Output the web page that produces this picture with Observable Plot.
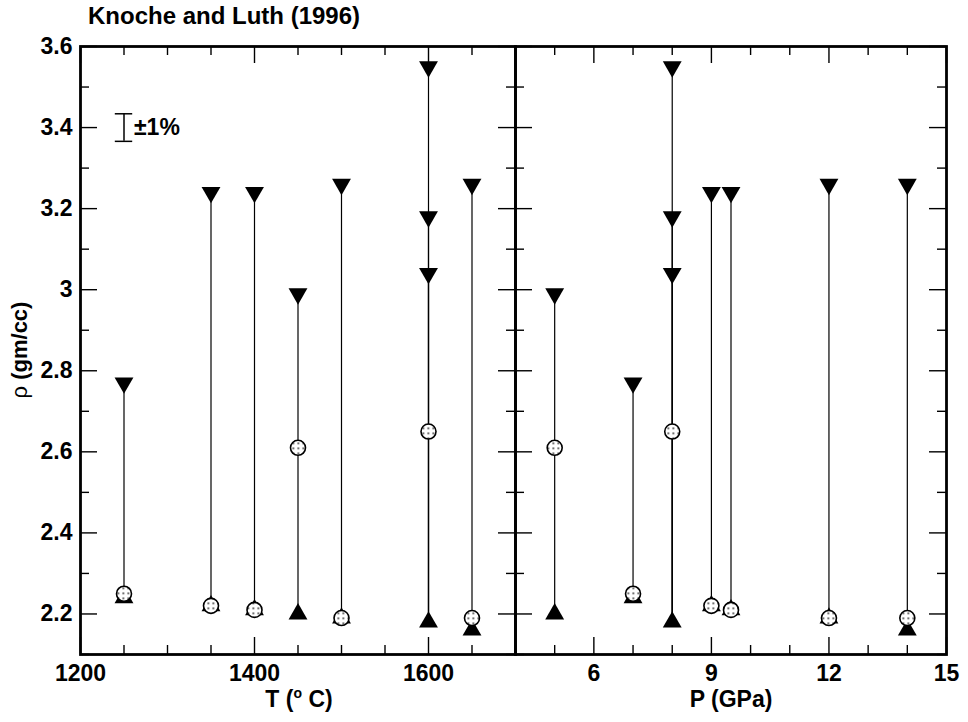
<!DOCTYPE html>
<html><head><meta charset="utf-8">
<script src="https://cdn.jsdelivr.net/npm/d3@7"></script>
<script src="https://cdn.jsdelivr.net/npm/@observablehq/plot@0.6"></script>
<style>
body{margin:0;background:#fff;}
#wrap{position:relative;width:968px;height:722px;font-family:"Liberation Sans",Arial,Helvetica,sans-serif;color:#000;overflow:hidden;}
#wrap svg{position:absolute;top:0;overflow:visible;}
.lbl{position:absolute;font-weight:bold;white-space:nowrap;line-height:1;}
.sup{position:relative;top:-9px;font-size:14px;}
</style></head><body>
<div id="wrap">
<div class="lbl" style="left:88px;top:4px;font-size:24px;">Knoche and Luth (1996)</div>
<div class="lbl" style="left:199px;top:688px;width:200px;text-align:center;font-size:23px;">T (<span class="sup">o</span> C)</div>
<div class="lbl" style="left:631px;top:688px;width:200px;text-align:center;font-size:23px;">P (GPa)</div>
<div class="lbl" style="left:-80px;top:338px;width:200px;height:24px;line-height:24px;text-align:center;font-size:22px;transform:rotate(-90deg);"><span style="font-weight:normal">ρ</span> (gm/cc)</div>
</div>
<script>
// ---- data ----
const temperature = [1250, 1350, 1400, 1450, 1500, 1600, 1650];   // T (°C)
const pressure    = [7, 9, 9.5, 5, 12, 8, 14];                    // P (GPa)
const rhoLow      = [2.24, 2.22, 2.21, 2.20, 2.19, 2.18, 2.16];   // up triangles
const rhoMid      = [2.25, 2.22, 2.21, 2.61, 2.19, 2.65, 2.19];   // stippled circles
const rhoHigh     = [[2.77], [3.24], [3.24], [2.99], [3.26], [3.55, 3.18, 3.04], [3.26]]; // down triangles

// ---- ticks ----
const yMajor = [2.2, 2.4, 2.6, 2.8, 3.0, 3.2, 3.4, 3.6];
const yMinor = [2.1, 2.3, 2.5, 2.7, 2.9, 3.1, 3.3, 3.5];
const tMajor = [1200, 1400, 1600];
const tMinor = [1250, 1300, 1350, 1450, 1500, 1550, 1650, 1700];
const pMajor = [6, 9, 12, 15];
const pMinor = [4, 5, 7, 8, 10, 11, 13, 14];

// ---- legend ----
const legendX = [1250];
const legendY = [3.4];
const legendPct = 0.01;
const legendCapHalf = 10;
const legendLabel = ["±1%"];

const exps = temperature.map((t, i) => ({T: t, P: pressure[i], low: rhoLow[i], mid: rhoMid[i]}));
const highs = exps.flatMap((e, i) => rhoHigh[i].map(h => ({...e, high: h})));

const triDown = {
  draw(ctx, size) {
    const y = -Math.sqrt(size / (Math.sqrt(3) * 3));
    ctx.moveTo(0, -y * 2);
    ctx.lineTo(-Math.sqrt(3) * y, y);
    ctx.lineTo(Math.sqrt(3) * y, y);
    ctx.closePath();
  }
};

const H = 722, MT = 46, MB = 68;
const innerH = H - MT - MB;

function panel({key, domain, major, minor, width, ml, mr, showY, stip, legend}) {
  const innerW = width - ml - mr;
  const marks = [
    Plot.ruleX(highs, {x: key, y1: "low", y2: "high", stroke: "black", strokeWidth: 1.2}),
    Plot.dot(exps, {x: key, y: "low", symbol: "triangle", r: 7, fill: "black", stroke: "none"}),
    Plot.dot(exps, {x: key, y: "mid", r: 7.5, fill: `url(#${stip})`, stroke: "black", strokeWidth: 1.6}),
    Plot.dot(highs, {x: key, y: "high", symbol: triDown, r: 7, fill: "black", stroke: "none"}),
    // inward ticks
    Plot.ruleX(major, {insetTop: innerH - 17, strokeWidth: 1.4}),
    Plot.ruleX(minor, {insetTop: innerH - 9, strokeWidth: 1.4}),
    Plot.ruleX(major, {insetBottom: innerH - 17, strokeWidth: 1.4}),
    Plot.ruleX(minor, {insetBottom: innerH - 9, strokeWidth: 1.4}),
    Plot.ruleY(yMajor, {insetRight: innerW - 17, strokeWidth: 1.4}),
    Plot.ruleY(yMinor, {insetRight: innerW - 9, strokeWidth: 1.4}),
    Plot.ruleY(yMajor, {insetLeft: innerW - 17, strokeWidth: 1.4}),
    Plot.ruleY(yMinor, {insetLeft: innerW - 9, strokeWidth: 1.4}),
    Plot.axisX({ticks: major, tickSize: 0, tickPadding: 10, tickFormat: d => String(d), fontSize: 23, fontWeight: "bold"}),
    Plot.frame({stroke: "black", strokeWidth: 2.8})
  ];
  if (showY) marks.push(Plot.axisY({ticks: yMajor, tickSize: 0, tickPadding: 8, tickFormat: d => String(d), fontSize: 23, fontWeight: "bold"}));
  if (legend) {
    const c = legendY[0];
    marks.push(
      Plot.ruleX(legendX, {x: d => d, y1: c * (1 - legendPct), y2: c * (1 + legendPct), strokeWidth: 1.5}),
      Plot.ruleY([c * (1 - legendPct), c * (1 + legendPct)], {x1: legendX[0] - legendCapHalf, x2: legendX[0] + legendCapHalf, strokeWidth: 1.5}),
      Plot.text(legendLabel, {x: legendX[0], y: c, text: d => d, dx: 10, textAnchor: "start", fontSize: 23, fontWeight: "bold"})
    );
  }
  const svg = Plot.plot({
    width, height: H,
    marginLeft: ml, marginRight: mr, marginTop: MT, marginBottom: MB,
    x: {domain, label: null},
    y: {domain: [2.1, 3.6], label: null, axis: showY ? undefined : null},
    style: {fontFamily: '"Liberation Sans", Arial, Helvetica, sans-serif', fontSize: "23px", fontWeight: "bold", background: "transparent", overflow: "visible", color: "black"},
    marks
  });
  const ns = "http://www.w3.org/2000/svg";
  const defs = document.createElementNS(ns, "defs");
  defs.innerHTML = `<pattern id="${stip}" patternUnits="userSpaceOnUse" width="5" height="5"><rect width="5" height="5" fill="white"/><rect x="2" y="2" width="1.6" height="1.6" fill="#222"/></pattern>`;
  svg.insertBefore(defs, svg.firstChild);
  return svg;
}

const wrap = document.getElementById("wrap");
const left = panel({key: "T", domain: [1200, 1700], major: tMajor, minor: tMinor, width: 515, ml: 80, mr: 0, showY: true, stip: "stipL", legend: true});
left.style.left = "0px";
const right = panel({key: "P", domain: [4, 15], major: pMajor, minor: pMinor, width: 453, ml: 0, mr: 22, showY: false, stip: "stipR", legend: false});
right.style.left = "515px";
wrap.appendChild(left);
wrap.appendChild(right);
</script>
</body></html>
